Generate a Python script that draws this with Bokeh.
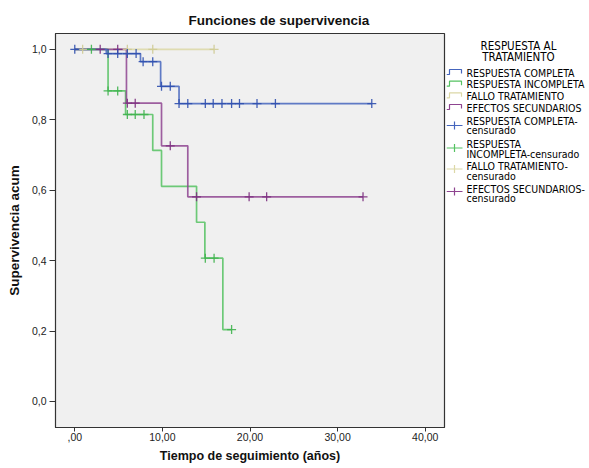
import numpy as np
from bokeh.plotting import figure
from bokeh.layouts import row
from bokeh.models import Range1d, FixedTicker
from bokeh.embed import file_html
from bokeh.resources import INLINE
from bokeh.core.properties import value

# ---------------- data ----------------
group_names = ["RESPUESTA COMPLETA", "RESPUESTA INCOMPLETA", "FALLO TRATAMIENTO", "EFECTOS SECUNDARIOS"]

rc_event_t = [0.0, 3.6, 7.5, 9.8, 11.9]
rc_surv = [1.0, 0.988, 0.965, 0.895, 0.846]
rc_end = 33.9
rc_cens_t = [0.0, 3.8, 4.9, 6.0, 7.0, 7.8, 8.9, 9.9, 10.9, 11.9, 12.9, 14.9, 15.8, 16.8, 17.9, 18.8, 20.8, 22.9, 33.9]

ri_event_t = [0.0, 3.8, 5.8, 8.9, 9.9, 13.9, 14.85, 16.9]
ri_surv = [1.0, 0.882, 0.815, 0.713, 0.611, 0.509, 0.407, 0.204]
ri_end = 17.9
ri_cens_t = [1.9, 3.8, 4.9, 6.0, 6.9, 7.9, 14.9, 15.9, 17.9]

ft_event_t = [0.0]
ft_surv = [1.0]
ft_end = 15.9
ft_cens_t = [0.9, 6.0, 8.9, 15.9]

es_event_t = [0.0, 5.9, 9.9, 12.9]
es_surv = [1.0, 0.847, 0.726, 0.581]
es_end = 32.9
es_cens_t = [2.9, 4.9, 6.0, 6.9, 10.9, 13.9, 19.9, 21.9, 32.9]

x_ticks = [0, 10, 20, 30, 40]
x_tick_labels = [",00", "10,00", "20,00", "30,00", "40,00"]
y_ticks = [0.0, 0.2, 0.4, 0.6, 0.8, 1.0]
y_tick_labels = ["0,0", "0,2", "0,4", "0,6", "0,8", "1,0"]

legend_title = ["RESPUESTA AL", "TRATAMIENTO"]
legend_step_labels = ["RESPUESTA COMPLETA", "RESPUESTA INCOMPLETA", "FALLO TRATAMIENTO", "EFECTOS SECUNDARIOS"]
legend_cens_labels = [["RESPUESTA COMPLETA-", "censurado"],
                      ["RESPUESTA", "INCOMPLETA-censurado"],
                      ["FALLO TRATAMIENTO-", "censurado"],
                      ["EFECTOS SECUNDARIOS-", "censurado"]]

# ---------------- styles ----------------
line_cols = ["#4565bd", "#55c262", "#dcd8a6", "#8e4490"]
mark_cols = ["#2f4fae", "#3fb24e", "#cfcb95", "#7c2f80"]
FONT = "Liberation Sans"
LFONT = "DejaVu Sans Condensed"
TOP, BOTTOM = 33, 41

p = figure(width=446, height=468, x_range=Range1d(-2.2, 42.2), y_range=Range1d(-0.074, 1.045),
           output_backend="svg", toolbar_location=None,
           min_border_left=55, min_border_right=2, min_border_top=TOP, min_border_bottom=BOTTOM)
p.background_fill_color = "#f0f0f0"
p.border_fill_color = "white"
p.outline_line_color = "#333333"
p.outline_line_width = 1.2
p.grid.visible = False

p.title.text = "Funciones de supervivencia"
p.title.text_font = FONT
p.title.text_font_size = "13.5px"
p.title.text_font_style = "bold"
p.title.align = "left"
p.title.offset = 133
p.title.standoff = 12
p.title.text_color = "#111111"

for ax in (p.xaxis[0], p.yaxis[0]):
    ax.axis_line_color = "#333333"
    ax.major_tick_line_color = "#333333"
    ax.minor_tick_line_color = None
    ax.major_tick_in = 0
    ax.major_label_text_font = FONT
    ax.major_label_text_font_size = "10.5px"
    ax.major_label_text_color = "#222222"
    ax.axis_label_text_font = FONT
    ax.axis_label_text_font_style = "bold"
    ax.axis_label_text_color = "#111111"

p.xaxis.ticker = FixedTicker(ticks=x_ticks)
p.xaxis.major_label_overrides = {t: l for t, l in zip(x_ticks, x_tick_labels)}
p.xaxis.major_tick_out = 4
p.xaxis.major_label_standoff = 1
p.xaxis.axis_label = "Tiempo de seguimiento (años)"
p.xaxis.axis_label_text_font_size = "12.5px"
p.xaxis.axis_label_standoff = 5

p.yaxis.ticker = FixedTicker(ticks=y_ticks)
p.yaxis.major_label_overrides = {t: l for t, l in zip(y_ticks, y_tick_labels)}
p.yaxis.major_tick_out = 6
p.yaxis.major_label_standoff = 3
p.yaxis.axis_label = "Supervivencia acum"
p.yaxis.axis_label_text_font_size = "13.5px"
p.yaxis.axis_label_standoff = 7

groups = [
    (rc_event_t, rc_surv, rc_end, rc_cens_t),
    (ri_event_t, ri_surv, ri_end, ri_cens_t),
    (ft_event_t, ft_surv, ft_end, ft_cens_t),
    (es_event_t, es_surv, es_end, es_cens_t),
]

def surv_at(ev_t, surv, t):
    i = np.searchsorted(np.array(ev_t), t, side="right") - 1
    return surv[max(i, 0)]

draw_order = [2, 1, 3, 0]
for gi in draw_order:
    ev_t, surv, end, cens = groups[gi]
    xs = list(ev_t) + [end]
    ys = list(surv) + [surv[-1]]
    p.step(xs, ys, mode="after", line_color=line_cols[gi], line_width=1.7, line_alpha=0.85)
for gi in draw_order:
    ev_t, surv, end, cens = groups[gi]
    cy = [surv_at(ev_t, surv, c) for c in cens]
    p.scatter(cens, cy, marker="cross", size=9, line_color=mark_cols[gi], line_width=1.3, line_alpha=0.9)

# ---------------- legend panel (pixel coordinates, frame aligned with main plot) ----------------
lg = figure(width=143, height=468, x_range=Range1d(0, 143), y_range=Range1d(468 - BOTTOM, TOP),
            output_backend="svg", toolbar_location=None,
            min_border_left=0, min_border_right=0, min_border_top=TOP, min_border_bottom=BOTTOM,
            x_axis_type=None, y_axis_type=None)
lg.title.visible = False
lg.outline_line_color = None
lg.grid.visible = False
lg.background_fill_color = "white"
lg.border_fill_color = "white"

lg.text(x=[72, 72], y=[45, 56], text=legend_title,
        text_font=value(LFONT), text_font_size="11.5px", text_align="center",
        text_baseline="middle", text_color="#000000")

step_rows = [72, 83.7, 95.3, 107]
for i, r in enumerate(step_rows):
    lg.line([0, 3, 3, 15, 15], [r + 2, r + 2, r - 3, r - 3, r + 1], line_color=line_cols[i], line_width=1.2)
lg.text(x=[20] * 4, y=step_rows, text=legend_step_labels, text_font=value(LFONT),
        text_font_size="10.5px", text_baseline="middle", text_color="#000000")

cens_rows = [(120, 129.5), (143, 153), (165.5, 175), (188.5, 197.5)]
cens_icon_y = [125, 147.5, 168.5, 191]
for i, (r1, r2) in enumerate(cens_rows):
    cyi = cens_icon_y[i]
    lg.line([0, 16], [cyi, cyi], line_color=line_cols[i], line_width=1.2)
    lg.line([8, 8], [cyi - 4, cyi + 4], line_color=line_cols[i], line_width=1.2)
    lg.text(x=[20, 20], y=[r1, r2], text=legend_cens_labels[i], text_font=value(LFONT),
            text_font_size="10.5px", text_baseline="middle", text_color="#000000")

layout = row(p, lg)
open("out.html", "w").write(file_html(layout, INLINE))
